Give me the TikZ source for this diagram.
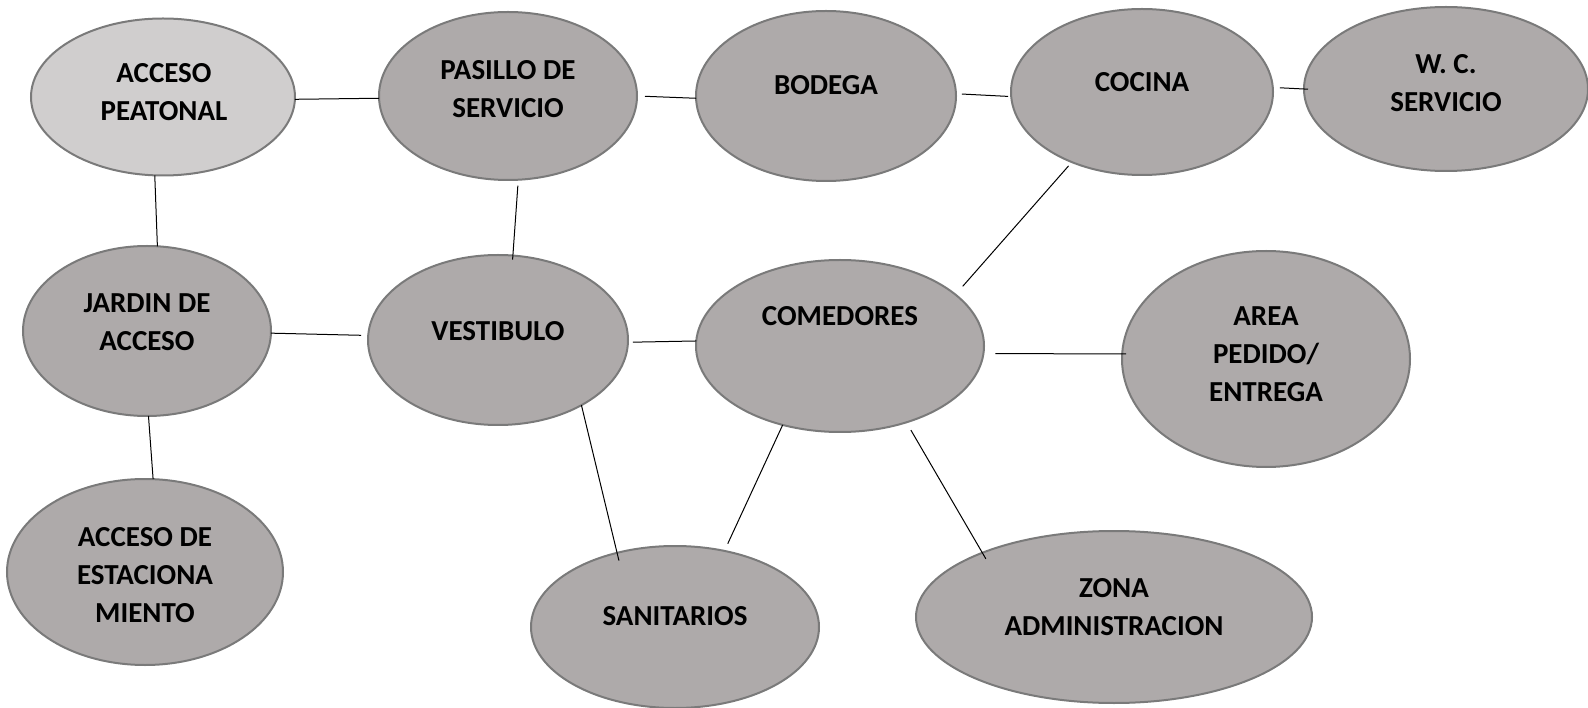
\documentclass[tikz,border=0pt]{standalone}
\usepackage{fontspec}
\setmainfont{Carlito}
\usetikzlibrary{positioning,shapes.geometric}
\definecolor{zonegray}{HTML}{AEAAAA}
\definecolor{zonelite}{HTML}{D0CECE}
\definecolor{zoneedge}{HTML}{7A7A7A}

\begin{document}
\begin{tikzpicture}[x=1pt,y=-1pt,
        room/.style 2 args={ellipse,draw=zoneedge,line width=2pt,fill=zonegray,minimum width=#1pt,minimum height=#2pt,inner sep=0pt,outer sep=0pt},
        txt/.style={font=\bfseries\fontsize{29}{38}\selectfont,align=center,inner sep=0pt},
        link/.style={line width=1pt}]
            \useasboundingbox (0,0) rectangle (1588,708);
            \node[room={264}{157},fill=zonelite] (acc) at (163,97) {};
            \node[txt] (acc-t) at (164,92) {ACCESO\\PEATONAL};
            \node[room={258}{168}] (pas) at (508,96) {};
            \node[txt] (pas-t) at (508,89) {PASILLO DE\\SERVICIO};
            \node[room={260}{170}] (bod) at (826,96) {};
            \node[txt] (bod-t) at (826,85) {BODEGA};
            \node[room={262}{166}] (coc) at (1142,92) {};
            \node[txt] (coc-t) at (1142,82) {COCINA};
            \node[room={284}{164}] (wc) at (1446,89) {};
            \node[txt] (wc-t) at (1446,83) {W. C.\\SERVICIO};
            \node[room={248}{170}] (jar) at (147,331) {};
            \node[txt] (jar-t) at (147,322) {JARDIN DE\\ACCESO};
            \node[room={260}{170}] (ves) at (498,340) {};
            \node[txt] (ves-t) at (498,331) {VESTIBULO};
            \node[room={288}{172}] (com) at (840,346) {};
            \node[txt] (com-t) at (840,316) {COMEDORES};
            \node[room={288}{216}] (are) at (1266,359) {};
            \node[txt] (are-t) at (1266,354) {AREA\\PEDIDO/\\ENTREGA};
            \node[room={276}{186}] (est) at (145,572) {};
            \node[txt] (est-t) at (145,575) {ACCESO DE\\ESTACIONA\\MIENTO};
            \node[room={288}{162}] (san) at (675,627) {};
            \node[txt] (san-t) at (675,616) {SANITARIOS};
            \node[room={396}{172}] (zon) at (1114,617) {};
            \node[txt] (zon-t) at (1114,607) {ZONA\\ADMINISTRACION};
            \draw[link] (acc.-1) -- (pas.181);
            \draw[link,shorten <=8pt] (pas.0) -- (bod.181);
            \draw[link,shorten <=6pt,shorten >=3pt] (bod.1) -- (coc.182);
            \draw[link,shorten <=7pt,shorten >=-4pt] (coc.2) -- (wc.180);
            \draw[link] (acc.-96) -- (jar.83);
            \draw[link,shorten <=6pt,shorten >=-4pt] (pas.-83) -- (ves.80);
            \draw[link,shorten >=7pt] (jar.-1) -- (ves.178);
            \draw[link,shorten <=5pt] (ves.-1) -- (com.178);
            \draw[link,shorten <=11pt,shorten >=5pt] (com.24) -- (coc.225);
            \draw[link,shorten <=12pt,shorten >=-4pt] (com.-3) -- (are.178);
            \draw[link] (jar.-89) -- (est.85);
            \draw[link,shorten >=-8pt] (ves.-38) -- (san.128);
            \draw[link,shorten >=8pt] (com.234) -- (san.57);
            \draw[link,shorten <=9pt,shorten >=-7pt] (com.-49) -- (zon.154);
\end{tikzpicture}
\end{document}
